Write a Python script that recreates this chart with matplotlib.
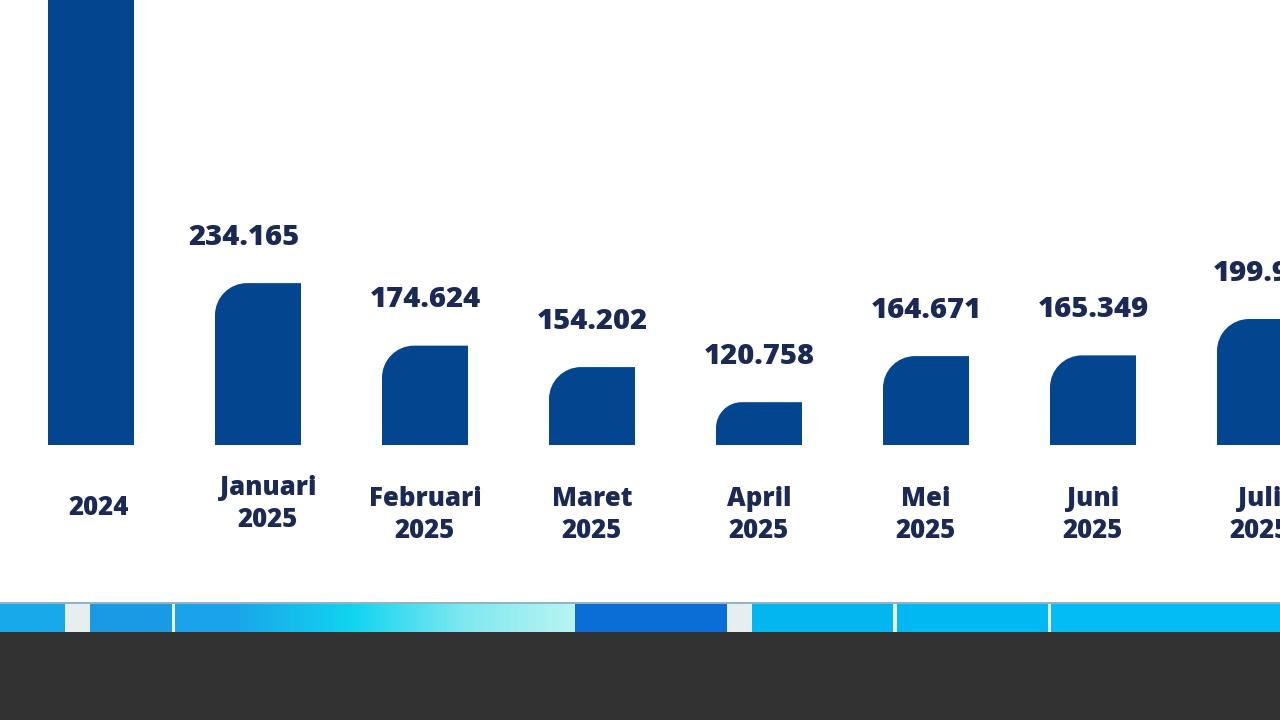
import matplotlib
matplotlib.use("Agg")
import matplotlib.pyplot as plt
import numpy as np
from matplotlib.path import Path
from matplotlib.patches import PathPatch, Rectangle
from matplotlib.colors import LinearSegmentedColormap

# ---- data ----
categories = ["2024", "Januari\n2025", "Februari\n2025", "Maret\n2025", "April\n2025",
              "Mei\n2025", "Juni\n2025", "Juli\n2025"]
values = [1500.000, 234.165, 174.624, 154.202, 120.758, 164.671, 165.349, 199.980]
value_labels = [None, "234.165", "174.624", "154.202", "120.758", "164.671", "165.349", "199.98"]

BAR = "#04458f"
TXT = "#1b2955"
FONT = ["Open Sans", "DejaVu Sans"]
WEIGHT = 800

W, H = 1280, 720
fig = plt.figure(figsize=(12.8, 7.2), dpi=100)
fig.patch.set_facecolor("white")

# main axes: bottom edge at bar baseline
base_px = 445
ax = fig.add_axes([0, (H - base_px) / H, 1, base_px / H])
ax.set_axis_off()
step_px = 167.0
x0_px = 91.0
ax.set_xlim(-x0_px / step_px, (W - x0_px) / step_px)
k = 1.05      # px per value unit
v0 = 80.0
ax.set_ylim(v0, v0 + base_px / k)

bar_w = 86 / step_px
r_px = 32
for i, v in enumerate(values):
    left = i - bar_w / 2
    right = i + bar_w / 2
    top = v
    h_px = (top - v0) * k
    rp = min(r_px, h_px * 0.6)
    rx = rp / step_px
    ry = rp / k
    c = 0.5523
    if i == 0:
        verts = [(left, v0), (right, v0), (right, top), (left, top), (left, v0)]
        codes = [Path.MOVETO, Path.LINETO, Path.LINETO, Path.LINETO, Path.CLOSEPOLY]
    else:
        verts = [(left, v0), (right, v0), (right, top), (left + rx, top),
                 (left + rx * (1 - c), top), (left, top - ry * (1 - c)), (left, top - ry),
                 (left, v0)]
        codes = [Path.MOVETO, Path.LINETO, Path.LINETO, Path.LINETO,
                 Path.CURVE4, Path.CURVE4, Path.CURVE4, Path.CLOSEPOLY]
    ax.add_patch(PathPatch(Path(verts, codes), facecolor=BAR, edgecolor="none"))
    lab = value_labels[i]
    if lab:
        dx = -14 if i == 1 else 0
        ax.annotate(lab, (i, top), xytext=(dx, 46), textcoords="offset pixels",
                    ha="center", va="center", fontsize=21, fontweight=WEIGHT,
                    color=TXT, family=FONT, annotation_clip=False)

# category labels (below baseline)
for i, c in enumerate(categories):
    if i == 0:
        y_px = 508
        dx = 8 / step_px
    elif i == 1:
        y_px = 504
        dx = 10 / step_px
    else:
        y_px = 515
        dx = 0
    y = v0 - (y_px - base_px) / k
    ax.text(i + dx, y, c, ha="center", va="center", fontsize=18.5, fontweight=WEIGHT,
            color=TXT, family=FONT, linespacing=1.3, clip_on=False)

# decorative bottom band
ax2 = fig.add_axes([0, 0, 1, (H - 600) / H])
ax2.set_axis_off()
ax2.set_xlim(0, W)
ax2.set_ylim(H, 600)
ax2.add_patch(Rectangle((0, 632), W, H - 632, facecolor="#323232", edgecolor="none"))
ax2.add_patch(Rectangle((0, 602), W, 2, facecolor="#8fb6c8", edgecolor="none"))
segs = [(0, 65, "#17a9ea"), (65, 90, "#e6eef0"), (90, 172, "#1a9ae2"), (172, 175, "#e8f4f8"),
        (175, 240, "#1aa2ea"), (575, 727, "#0b6ed6"), (727, 752, "#e6eef0"),
        (752, 893, "#03b6f0"), (893, 897, "#e8f4f8"), (897, 1048, "#02b8f2"),
        (1048, 1051, "#e8f4f8"), (1051, W, "#03bcf5")]
for a, b, col in segs:
    ax2.add_patch(Rectangle((a, 604), b - a, 28, facecolor=col, edgecolor="none"))
grad = np.linspace(0, 1, 256)[None, :]
cm = LinearSegmentedColormap.from_list("g", ["#1aa8ea", "#10d4f0", "#7ee8f0", "#b8f4f2"])
ax2.imshow(grad, extent=(240, 575, 632, 604), cmap=cm, aspect="auto", zorder=2)
ax2.set_xlim(0, W)
ax2.set_ylim(H, 600)

fig.savefig("out.png", dpi=100, facecolor="white")
